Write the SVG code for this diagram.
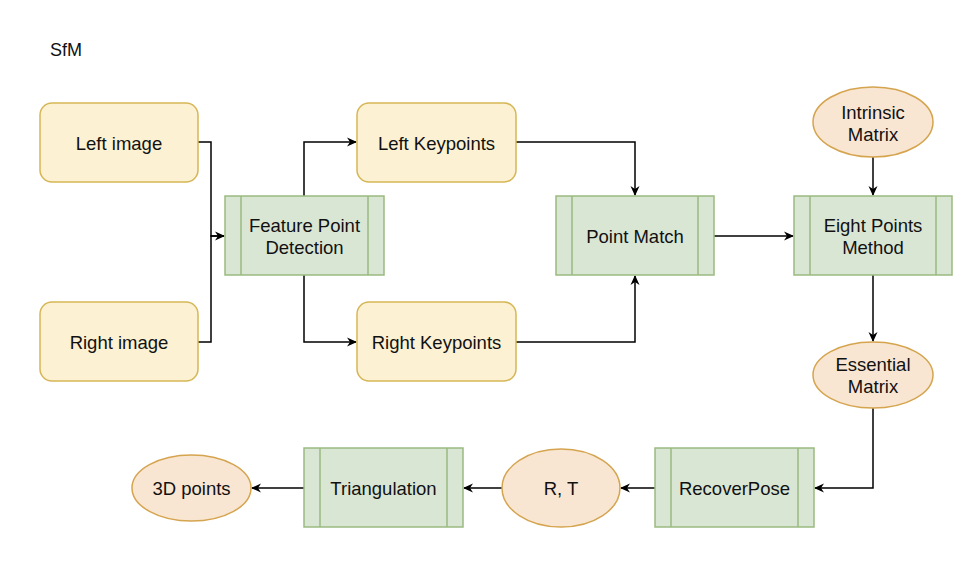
<svg xmlns="http://www.w3.org/2000/svg" width="968" height="564" viewBox="0 0 968 564">
<style>
.y{fill:#fcf2d3;stroke:#d6b656;stroke-width:1.5}
.g{fill:#dae6d4;stroke:#9aba80;stroke-width:1.5}
.o{fill:#f9e6d2;stroke:#d5a44f;stroke-width:1.5}
.e{fill:none;stroke:#000;stroke-width:1.5}
text{font-family:"Liberation Sans",Arial,sans-serif;font-size:18.5px;fill:#111;text-anchor:middle;dominant-baseline:central}
</style>
<defs>
<marker id="a" viewBox="0 0 10 10" refX="9" refY="5" markerWidth="10" markerHeight="10" markerUnits="userSpaceOnUse" orient="auto">
<path d="M0,0.5 L10,5 L0,9.5 L3,5 Z" fill="#000"/>
</marker>
</defs>
<rect width="968" height="564" fill="#fff"/>
<text x="50" y="50" style="text-anchor:start;font-size:18px">SfM</text>
<g id="edges">
<path class="e" d="M198,142 H211 V236 H224" marker-end="url(#a)"/>
<path class="e" d="M198,342 H211 V236 H224"/>
<path class="e" d="M304,196 V142 H356" marker-end="url(#a)"/>
<path class="e" d="M304,275 V342 H356" marker-end="url(#a)"/>
<path class="e" d="M516,142 H635 V195" marker-end="url(#a)"/>
<path class="e" d="M516,342 H635 V276" marker-end="url(#a)"/>
<path class="e" d="M714,236 H793" marker-end="url(#a)"/>
<path class="e" d="M873,157 V195" marker-end="url(#a)"/>
<path class="e" d="M873,275 V341" marker-end="url(#a)"/>
<path class="e" d="M873,408 V488 H815" marker-end="url(#a)"/>
<path class="e" d="M655,488 H621" marker-end="url(#a)"/>
<path class="e" d="M502,488 H464" marker-end="url(#a)"/>
<path class="e" d="M304,488 H252" marker-end="url(#a)"/>
</g>
<g id="left-image"><rect class="y" x="40" y="103" width="158" height="79" rx="12"/><text x="119" y="143">Left image</text></g>
<g id="right-image"><rect class="y" x="40" y="302" width="158" height="79" rx="12"/><text x="119" y="342">Right image</text></g>
<g id="feature"><rect class="g" x="225" y="196" width="159" height="79"/><path class="g" d="M241,196 V275 M368,196 V275"/><text x="304.5" y="225">Feature Point</text><text x="304.5" y="247">Detection</text></g>
<g id="left-kp"><rect class="y" x="357" y="103" width="159" height="79" rx="12"/><text x="436.5" y="143">Left Keypoints</text></g>
<g id="right-kp"><rect class="y" x="357" y="302" width="159" height="79" rx="12"/><text x="436.5" y="342">Right Keypoints</text></g>
<g id="point-match"><rect class="g" x="556" y="196" width="158" height="79"/><path class="g" d="M572,196 V275 M698,196 V275"/><text x="635" y="236">Point Match</text></g>
<g id="eight"><rect class="g" x="794" y="196" width="158" height="79"/><path class="g" d="M810,196 V275 M936,196 V275"/><text x="873" y="225">Eight Points</text><text x="873" y="247">Method</text></g>
<g id="intrinsic"><ellipse class="o" cx="873" cy="122" rx="60" ry="35"/><text x="873" y="112">Intrinsic</text><text x="873" y="134">Matrix</text></g>
<g id="essential"><ellipse class="o" cx="873" cy="375" rx="60" ry="33"/><text x="873" y="364">Essential</text><text x="873" y="386">Matrix</text></g>
<g id="recover"><rect class="g" x="655" y="448" width="159" height="79"/><path class="g" d="M671,448 V527 M798,448 V527"/><text x="734.5" y="488">RecoverPose</text></g>
<g id="rt"><ellipse class="o" cx="561" cy="488" rx="59" ry="39"/><text x="561" y="488">R, T</text></g>
<g id="triangulation"><rect class="g" x="304" y="448" width="159" height="79"/><path class="g" d="M320,448 V527 M447,448 V527"/><text x="383.5" y="488">Triangulation</text></g>
<g id="points3d"><ellipse class="o" cx="191.5" cy="488" rx="59.5" ry="33"/><text x="191.5" y="488">3D points</text></g>
</svg>
